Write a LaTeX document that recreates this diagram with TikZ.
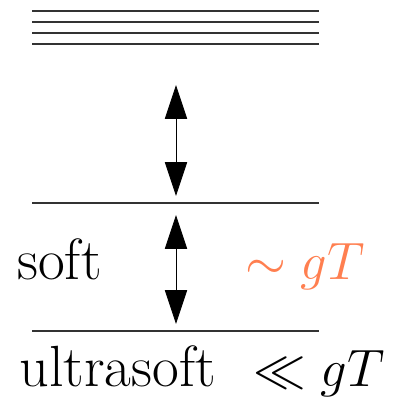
\documentclass[tikz,border=0pt]{standalone}
\usepackage{amsmath,amssymb}
\usetikzlibrary{arrows.meta,positioning}
\definecolor{corail}{HTML}{FF7F50}

\begin{document}
\begin{tikzpicture}[x=0.473pt,y=-0.473pt,every node/.style={font=\fontsize{27.5}{33}\selectfont,inner sep=0pt},
    niveau/.style={line width=0.5pt,black!80},
    fleche/.style={{Triangle[length=16pt,width=10.5pt]}-{Triangle[length=16pt,width=10.5pt]},line width=0.4pt}]
        \useasboundingbox (0,0) rectangle (397,402);
        % niveaux
        \foreach \y in {11,22,33,44,203,331}
          \draw[niveau] (32,\y) -- (319,\y);
        % fleches
        \coordinate (h1) at (176,85);
        \coordinate (b1) at (176,196);
        \coordinate (h2) at (176,215);
        \coordinate (b2) at (176,324);
        \draw[fleche] (h1) -- (b1);
        \draw[fleche] (h2) -- (b2);
        % textes
        \node[anchor=base west] (soft) at (17,279) {soft};
        \node[anchor=base west,text=corail,font=\fontsize{26.5}{32}\selectfont] (sim) at (245,279) {$\sim gT$};
        \node[anchor=base west] (ultra) at (19,386) {ultrasoft};
        \node[anchor=base west] (ll) at (253,386) {$\ll gT$};
      \end{tikzpicture}
\end{document}
